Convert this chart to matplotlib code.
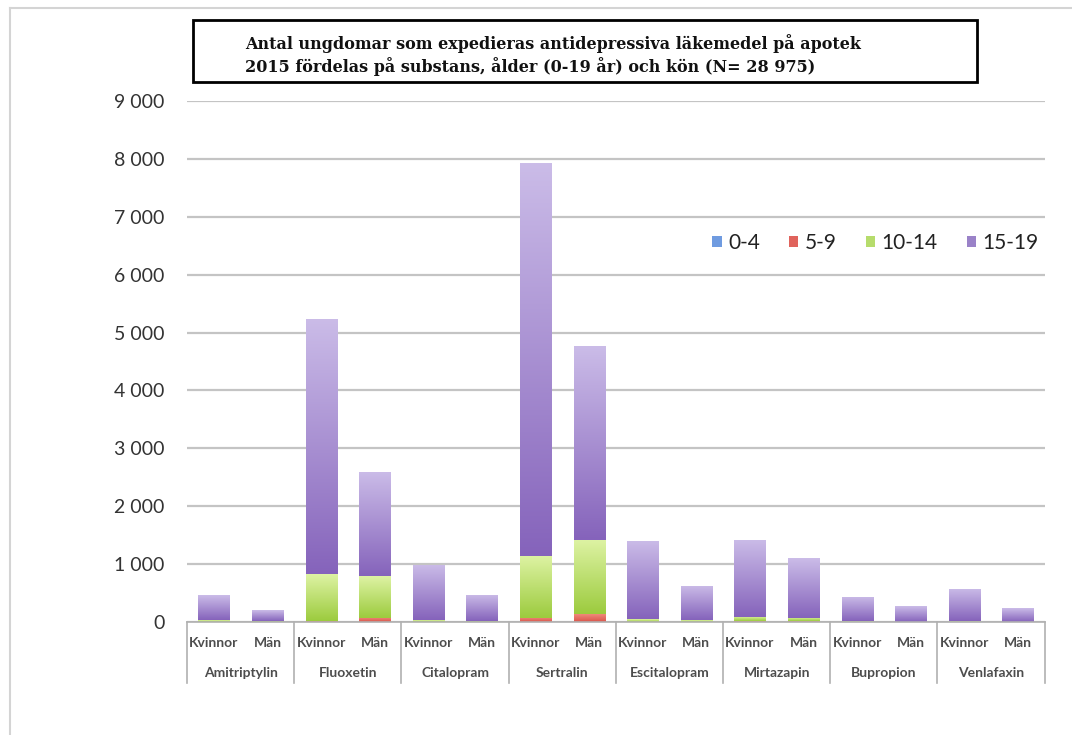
import numpy as np
import matplotlib
matplotlib.use("Agg")
import matplotlib.pyplot as plt
from matplotlib.colors import LinearSegmentedColormap
from matplotlib.patches import Rectangle
from matplotlib.lines import Line2D
from matplotlib.ticker import FuncFormatter

plt.rcParams['font.family'] = ['Lato', 'DejaVu Sans']

substances = ['Amitriptylin', 'Fluoxetin', 'Citalopram', 'Sertralin',
              'Escitalopram', 'Mirtazapin', 'Bupropion', 'Venlafaxin']
sexes = ['Kvinnor', 'Män']
age_groups = ['0-4', '5-9', '10-14', '15-19']

# Kvinnor, Män for each substance in order
age_0_4 = [0, 0, 0, 0, 0, 0, 0, 5, 0, 0, 0, 0, 0, 0, 0, 0]
age_5_9 = [5, 5, 15, 70, 5, 5, 70, 135, 5, 5, 10, 10, 0, 0, 0, 0]
age_10_14 = [30, 20, 810, 720, 30, 20, 1075, 1285, 45, 25, 70, 60, 10, 5, 15, 5]
age_15_19 = [425, 175, 4405, 1800, 955, 450, 6785, 3350, 1350, 590, 1335, 1035,
             420, 265, 555, 230]

series = [age_0_4, age_5_9, age_10_14, age_15_19]
base_colors = ['#6f9be0', '#e0635c', '#b6dc6c', '#9a82c8']
# light (top) to dark (bottom) shading per segment
shades = [('#8fb4e3', '#4f81bd'), ('#f08a7a', '#d9534a'),
          ('#def3a4', '#9ccb3e'), ('#cbbce8', '#8563bb')]

fig = plt.figure(figsize=(10.72, 7.35), dpi=100)
# thin page edge, top and left only
fig.lines.append(Line2D([10 / 1072, 1], [1 - 8 / 735, 1 - 8 / 735], transform=fig.transFigure,
                        color='#d4d4d4', linewidth=1.5))
fig.lines.append(Line2D([10 / 1072, 10 / 1072], [0, 1 - 8 / 735], transform=fig.transFigure,
                        color='#d4d4d4', linewidth=1.5))

ax = fig.add_axes([0.1745, 0.1537, 0.8, 0.7089])
x = np.arange(len(age_15_19))
bottom = np.zeros(len(x))
grad = np.linspace(0, 1, 256).reshape(-1, 1)
for vals, name, col, (top_c, bot_c) in zip(series, age_groups, base_colors, shades):
    bars = ax.bar(x, vals, 0.58, bottom=bottom, color=col, label=name,
                  linewidth=0, zorder=2)
    cmap = LinearSegmentedColormap.from_list(name, [bot_c, top_c])
    for b in bars:
        h = b.get_height()
        if h <= 0:
            continue
        x0, y0 = b.get_x(), b.get_y()
        im = ax.imshow(grad, extent=[x0, x0 + b.get_width(), y0, y0 + h],
                       origin='lower', aspect='auto', cmap=cmap, zorder=3)
        im.set_clip_path(b)
    bottom += np.array(vals)

ax.set_xlim(-0.5, len(x) - 0.5)
ax.set_ylim(0, 9000)
ax.set_yticks(np.arange(0, 9001, 1000))
ax.yaxis.set_major_formatter(FuncFormatter(lambda v, p: f'{int(v):,}'.replace(',', ' ')))
ax.tick_params(axis='y', length=0, pad=16, labelsize=14, labelcolor='#333333')
ax.grid(axis='y', color='#c4c4c4', linewidth=1.6, zorder=0)
ax.set_axisbelow(True)
for s in ['left', 'right', 'top']:
    ax.spines[s].set_visible(False)
ax.spines['bottom'].set_color('#b0b0b0')
ax.spines['bottom'].set_linewidth(1.2)
ax.spines['bottom'].set_zorder(4)
ax.set_xticks([])

# two-level category labels below the axis
trans = ax.get_xaxis_transform()
for i in range(len(x)):
    ax.text(x[i], -0.04, sexes[i % 2], transform=trans, ha='center', va='center',
            fontsize=10, fontweight='bold', color='#4d4d4d')
for g, name in enumerate(substances):
    ax.text(2 * g + 0.5, -0.098, name, transform=trans, ha='center', va='center',
            fontsize=10, fontweight='bold', color='#4d4d4d')
for sep in np.arange(-0.5, len(x), 2):
    ax.plot([sep, sep], [0, -0.117], transform=trans, color='#b0b0b0',
            linewidth=1.2, clip_on=False)

handles, labels = ax.get_legend_handles_labels()
ax.legend(handles, labels, ncol=4, frameon=False, loc='center right',
          bbox_to_anchor=(1057 / 1072, 1 - 243 / 735), bbox_transform=fig.transFigure,
          fontsize=15, handlelength=0.45, handleheight=0.45, handletextpad=0.3,
          columnspacing=1.4, labelcolor='#222222')

# title box
fig.patches.append(Rectangle((193 / 1072, 1 - 82 / 735), 784 / 1072, 62 / 735,
                             transform=fig.transFigure, fill=False,
                             edgecolor='black', linewidth=2))
fig.text(245 / 1072, 1 - 44 / 735,
         'Antal ungdomar som expedieras antidepressiva läkemedel på apotek',
         ha='left', va='center', fontsize=11.5, fontweight='bold',
         family='DejaVu Serif', color='#111111')
fig.text(245 / 1072, 1 - 67 / 735,
         '2015 fördelas på substans, ålder (0-19 år) och kön (N= 28 975)',
         ha='left', va='center', fontsize=11.5, fontweight='bold',
         family='DejaVu Serif', color='#111111')

fig.savefig('out.png', dpi=100)
